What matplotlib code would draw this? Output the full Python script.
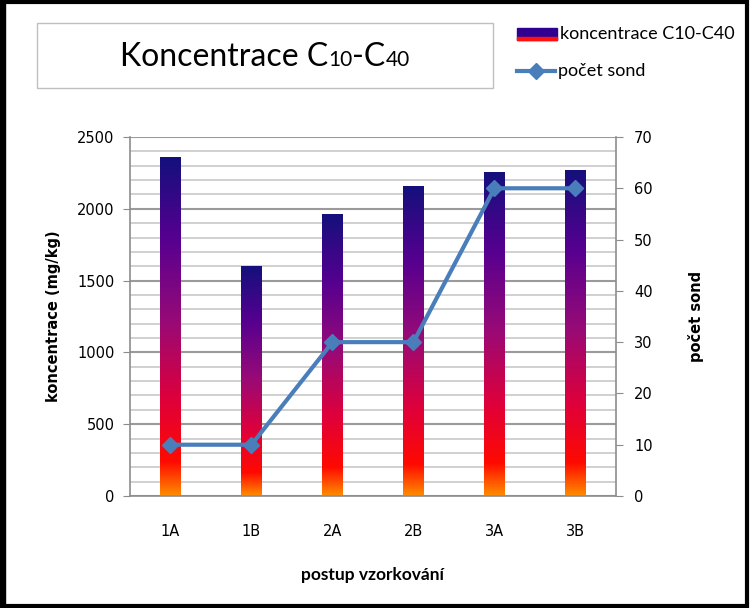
import numpy as np
import matplotlib.pyplot as plt
from matplotlib.colors import LinearSegmentedColormap
from matplotlib.lines import Line2D
from matplotlib.patches import Rectangle
from matplotlib.offsetbox import TextArea, HPacker, AnnotationBbox

plt.rcParams["font.family"] = ["DejaVu Sans"]

# data
kategorie = ["1A", "1B", "2A", "2B", "3A", "3B"]
koncentrace = [2360, 1600, 1960, 2155, 2250, 2265]
pocet_sond = [10, 10, 30, 30, 60, 60]

# gradient like the Excel fill (orange -> red -> purple -> navy)
cmap = LinearSegmentedColormap.from_list("grad", [
    (0.0, "#ff8c00"), (0.10, "#ff0a00"), (0.28, "#e0003a"),
    (0.52, "#960a78"), (0.76, "#560090"), (1.0, "#14107c")])

fig = plt.figure(figsize=(7.5, 6.08), dpi=100)
ax = fig.add_axes([0.1733, 0.1842, 0.648, 0.5905])
x = np.arange(len(kategorie))

# gridlines: minor every 100, major every 500
ax.set_yticks(np.arange(0, 2501, 500))
ax.set_yticks(np.arange(0, 2501, 100), minor=True)
ax.grid(axis="y", which="minor", color="#c8c8c8", lw=1.2)
ax.grid(axis="y", which="major", color="#9a9a9a", lw=1.5)
ax.set_axisbelow(True)

grad = np.linspace(0, 1, 256).reshape(-1, 1)
bars = ax.bar(x, koncentrace, width=0.25, color="none", zorder=2)
for b in bars:
    x0, w, h = b.get_x(), b.get_width(), b.get_height()
    ax.imshow(grad, cmap=cmap, origin="lower", aspect="auto",
              extent=(x0, x0 + w, 0, h), zorder=2, interpolation="bilinear")
ax.set_xlim(-0.5, len(kategorie) - 0.5)
ax.set_ylim(0, 2500)

for s in ["top", "right"]:
    ax.spines[s].set_visible(False)
ax.spines["left"].set_color("#8c8c8c")
ax.spines["bottom"].set_color("#8c8c8c")
ax.spines["left"].set_linewidth(1.2)
ax.spines["bottom"].set_linewidth(1.2)
ax.tick_params(axis="y", which="major", length=5, color="#8c8c8c", labelsize=10.5, pad=6)
ax.tick_params(axis="y", which="minor", length=0)
ax.tick_params(axis="x", length=0, labelsize=10.5, pad=20)
ax.set_xticks(x)
ax.set_xticklabels(kategorie)
ax.set_ylabel("koncentrace (mg/kg)", fontsize=10.5, fontweight="bold", labelpad=12)
ax.set_xlabel("postup vzorkování", fontsize=12.5, fontweight="bold", family="Lato", labelpad=20)

# secondary axis
ax2 = ax.twinx()
ax2.plot(x, pocet_sond, color="#4a7ebb", lw=3, marker="D", markersize=8, zorder=3)
ax2.set_ylim(0, 70)
ax2.set_yticks(np.arange(0, 71, 10))
for s in ["top", "left", "bottom"]:
    ax2.spines[s].set_visible(False)
ax2.spines["right"].set_color("#8c8c8c")
ax2.spines["right"].set_linewidth(1.2)
ax2.tick_params(axis="y", length=5, color="#8c8c8c", labelsize=10.5, pad=8)
ax2.set_ylabel("počet sond", fontsize=10.5, fontweight="bold", labelpad=25)

# title box
fig.patches.append(Rectangle((37 / 750, 1 - 88 / 608), 456 / 750, 65 / 608,
                             transform=fig.transFigure, fill=False,
                             edgecolor="#bfbfbf", lw=1))
velky = dict(fontsize=23, family="Lato")
maly = dict(fontsize=15, family="Lato")
casti = [TextArea("Koncentrace C", textprops=velky), TextArea("10", textprops=maly),
         TextArea("-C", textprops=velky), TextArea("40", textprops=maly)]
titul = HPacker(children=casti, align="baseline", pad=0, sep=0)
fig.add_artist(AnnotationBbox(titul, (265 / 750, 1 - 57 / 608), xycoords="figure fraction",
                              frameon=False, box_alignment=(0.5, 0.5)))

# legend
lx = 517 / 750
fig.patches.append(Rectangle((lx, 1 - 40 / 608), 40 / 750, 12 / 608,
                             transform=fig.transFigure, color="#300090"))
fig.patches.append(Rectangle((lx, 1 - 40 / 608), 40 / 750, 3 / 608,
                             transform=fig.transFigure, color="#ff1010"))
fig.text(560 / 750, 1 - 34 / 608, "koncentrace C10-C40", va="center",
         fontsize=13, family="Lato")
fig.add_artist(Line2D([lx, 555 / 750], [1 - 71 / 608] * 2, transform=fig.transFigure,
                      color="#4a7ebb", lw=3))
fig.add_artist(Line2D([536 / 750], [1 - 71 / 608], transform=fig.transFigure,
                      color="#4a7ebb", marker="D", markersize=8))
fig.text(558 / 750, 1 - 71 / 608, "počet sond", va="center", fontsize=13, family="Lato")

# outer frame
fig.patches.append(Rectangle((0.002, 0.004), 0.994, 0.993, transform=fig.transFigure,
                             fill=False, edgecolor="black", lw=3))
fig.patches.append(Rectangle((0, 0), 0.006, 1, transform=fig.transFigure, color="black"))

fig.savefig("out.png", dpi=100)
